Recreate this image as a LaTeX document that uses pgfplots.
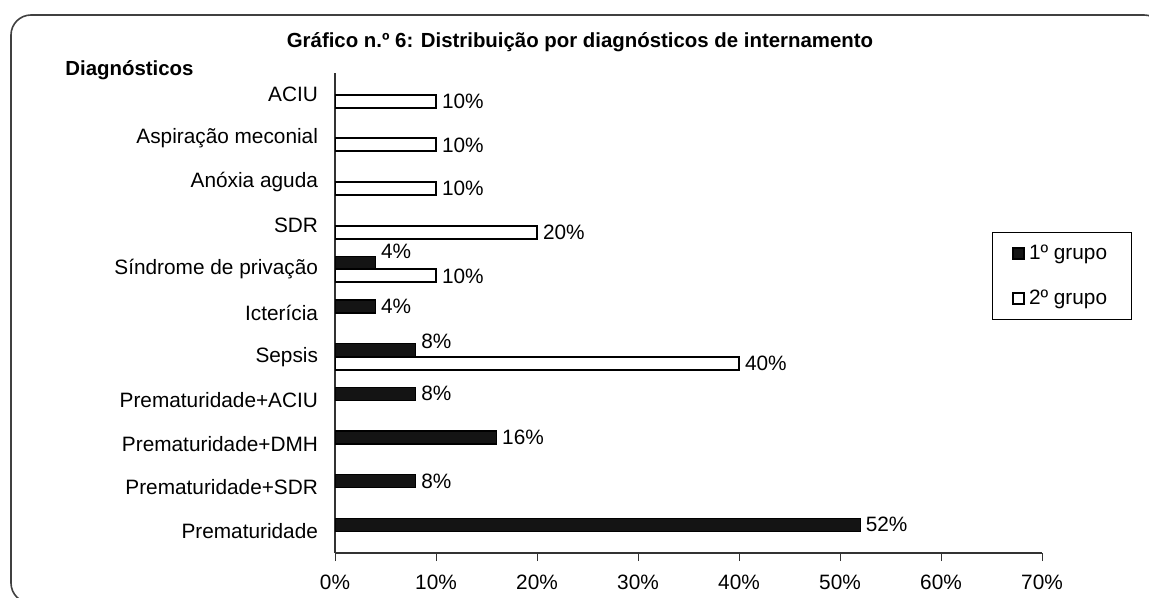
\documentclass[border=0pt]{standalone}
\usepackage{fontspec}
\setmainfont{Liberation Sans}
\usepackage{pgfplots}
\pgfplotsset{compat=1.18}
\usepackage{pgfplotstable}

% categories from bottom (0) to top (10); dy = label shift in pt
\pgfplotstableread{
y x dy
6 4 9
5 4 3.25
4 8 7.5
3 8 3.25
2 16 3.25
1 8 3.25
0 52 3.25
}\groupA
\pgfplotstableread{
y x
10 10
9 10
8 10
7 20
6 10
4 40
}\groupB

\newcommand{\lf}{\fontsize{10.4}{12}\selectfont}
\newcommand{\bfnt}{\fontsize{10.2}{12}\selectfont\bfseries}

\begin{document}
\begin{tikzpicture}
\useasboundingbox (0pt,0pt) rectangle (574.5pt,-299pt);
\begin{scope}
\clip (0pt,0pt) rectangle (574.5pt,-299pt);
\draw[black!75, line width=0.8pt, rounded corners=10pt] (5.5pt,-7.5pt) rectangle (582pt,-301.5pt);
\end{scope}
\node[anchor=base, font=\bfnt, inner sep=0pt] at (290pt,-24pt) {Gráfico n.º 6: Distribuição por diagnósticos de internamento};
\node[anchor=base west, font=\bfnt, inner sep=0pt] at (32.5pt,-38pt) {Diagnósticos};
\begin{axis}[
  at={(167.5pt,-276.5pt)}, anchor=south west,
  scale only axis, width=353.5pt, height=240pt,
  xmin=0, xmax=70, ymin=-0.5, ymax=10.5,
  axis lines*=left,
  axis line style={black!80, line width=0.6pt},
  xtick={0,10,...,70},
  xticklabel={\pgfmathprintnumber{\tick}\%},
  ytick={0,...,10},
  yticklabels={Prematuridade, Prematuridade+SDR, Prematuridade+DMH, Prematuridade+ACIU, Sepsis, Icterícia, Síndrome de privação, SDR, Anóxia aguda, Aspiração meconial, ACIU},
  minor ytick={-0.5,0.5,...,10.5},
  tick align=outside,
  major tick length=4pt,
  ytick style={draw=none},
  minor tick length=2.5pt,
  minor tick style={black!80, line width=0.5pt},
  xtick style={black!80, line width=0.5pt},
  /pgf/number format/assume math mode=true,
  every tick label/.append style={font=\lf},
  yticklabel style={xshift=-1pt},
  xticklabel style={yshift=-3.5pt},
  legend style={at={(0.929,0.669)}, anchor=north west, draw=black, line width=0.6pt,
    inner xsep=10pt, inner ysep=4pt, row sep=10pt, font=\lf,
    nodes={inner xsep=2pt, inner ysep=2pt}},
  legend cell align=left,
  legend image code/.code={\draw[#1, line width=0.8pt] (0pt,-2.75pt) rectangle (5.5pt,2.75pt);},
  nodes near coords={\pgfmathprintnumber{\pgfplotspointmeta}\%},
  every node near coord/.append style={font=\lf, anchor=west, inner sep=2.5pt},
  point meta=x,
]
\addplot[xbar, bar width=6.5pt, bar shift=3.25pt, fill=black!92, draw=black, line width=0.6pt,
  visualization depends on={\thisrow{dy} \as \dy},
  every node near coord/.append style={yshift=\dy pt, black}]
  table[x=x, y=y] {\groupA};
\addlegendentry{1º grupo}
\addplot[xbar, bar width=6.5pt, bar shift=-3.25pt, fill=white, draw=black, line width=1pt,
  every node near coord/.append style={yshift=-3.25pt, black}]
  table[x=x, y=y] {\groupB};
\addlegendentry{2º grupo}
\end{axis}
\end{tikzpicture}
\end{document}
